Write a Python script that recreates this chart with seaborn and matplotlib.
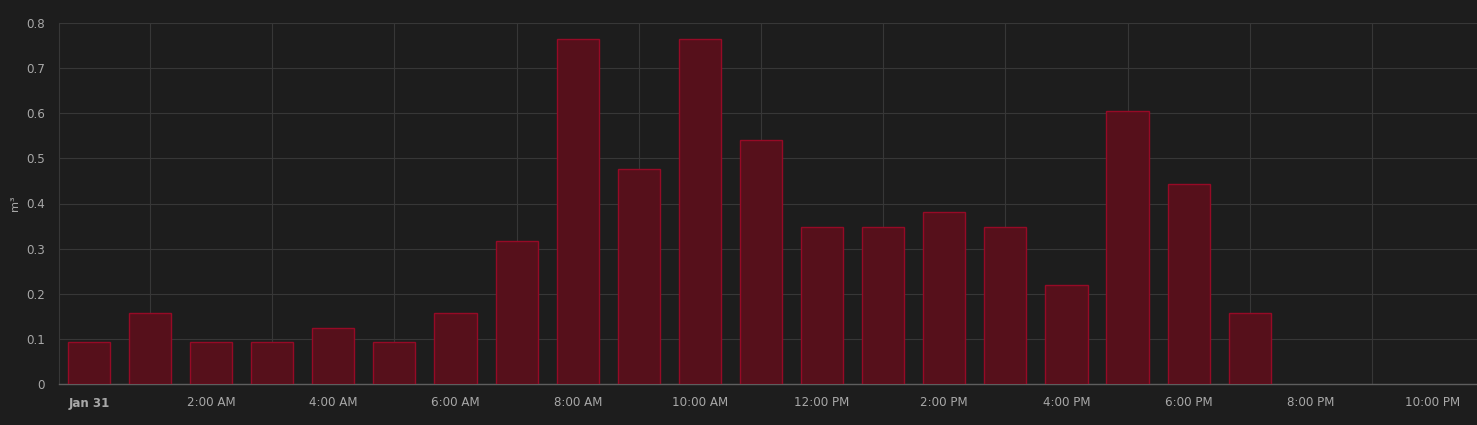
import numpy as np
import pandas as pd
import seaborn as sns
import matplotlib.pyplot as plt

# hourly gas usage, Jan 31
hours = list(range(20))
usage = [0.093, 0.157, 0.093, 0.093, 0.124, 0.093, 0.157, 0.317, 0.765, 0.476,
         0.765, 0.541, 0.348, 0.348, 0.381, 0.348, 0.219, 0.605, 0.443, 0.157]
label_hours = list(range(0, 24, 2))
tick_labels = ["Jan 31", "2:00 AM", "4:00 AM", "6:00 AM", "8:00 AM", "10:00 AM",
               "12:00 PM", "2:00 PM", "4:00 PM", "6:00 PM", "8:00 PM", "10:00 PM"]

BG = "#1d1d1d"
GRID = "#373737"
TEXT = "#a8a8a8"

df = pd.DataFrame({"hour": hours, "usage": usage})

sns.set_theme(style="dark")
plt.rcParams['font.family'] = ['DejaVu Sans']

fig = plt.figure(figsize=(14.77, 4.25), dpi=100, facecolor=BG)
ax = fig.add_axes([59 / 1477, 41 / 425, 1 - 59 / 1477, (384 - 23) / 425])
ax.set_facecolor(BG)

sns.barplot(data=df, x="hour", y="usage", native_scale=True, width=0.69,
            color="#56101b", edgecolor="#960a26", linewidth=1.0,
            saturation=1, ax=ax, zorder=3)

ax.set_xlim(-0.49, 22.72)
ax.set_ylim(0, 0.8)

ax.set_yticks(np.arange(0, 0.81, 0.1))
ax.set_yticklabels(["0"] + [f"{v:.1f}" for v in np.arange(0.1, 0.81, 0.1)])
ax.grid(axis="y", color=GRID, linewidth=0.8)

# grid lines / tick marks sit at odd hours, labels at even hours
ax.set_xticks(list(range(1, 23, 2)))
ax.set_xticklabels([])
ax.tick_params(axis="x", which="major", length=8, width=0.8, color=GRID,
               direction="out")
ax.grid(axis="x", which="major", color=GRID, linewidth=0.8)
ax.set_xticks(label_hours, minor=True)
ax.set_xticklabels(tick_labels, minor=True)
ax.tick_params(axis="x", which="minor", length=0, pad=9, labelsize=8.6,
               labelcolor=TEXT)
for lbl in ax.get_xticklabels(minor=True):
    if lbl.get_text() == "Jan 31":
        lbl.set_fontweight("bold")
ax.tick_params(axis="y", length=0, pad=10, labelsize=8.6, labelcolor=TEXT)

for side in ["top", "right"]:
    ax.spines[side].set_visible(False)
ax.spines["left"].set_color(GRID)
ax.spines["left"].set_linewidth(0.8)
ax.spines["bottom"].set_color("#5e5e5e")
ax.spines["bottom"].set_linewidth(1)

ax.set_xlabel("")
ax.set_ylabel("m³", color=TEXT, fontsize=8.2)
ax.yaxis.set_label_coords(-39 / 1418, 0.5)

fig.savefig("out.png", dpi=100, facecolor=BG)
